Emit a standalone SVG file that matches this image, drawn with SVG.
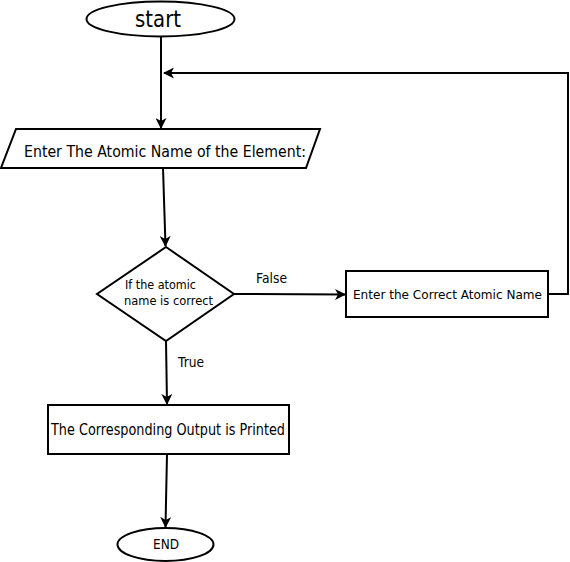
<svg xmlns="http://www.w3.org/2000/svg" width="570" height="562" viewBox="0 0 570 562">
<style>
.s{fill:#fff;stroke:#000;stroke-width:2}
.c{fill:none;stroke:#000;stroke-width:2}
text{font-family:"DejaVu Sans",Verdana,sans-serif;fill:#000}
</style>
<defs>
<marker id="a" markerWidth="11" markerHeight="11" viewBox="0 0 11 11" refX="10" refY="5.5" orient="auto" markerUnits="userSpaceOnUse">
<path d="M0,0 L11,5.5 L0,11 L3,5.5 Z" fill="#000"/>
</marker>
</defs>
<rect width="570" height="562" fill="#fff"/>
<g id="connectors">
<path class="c" d="M161,37 L161,128" marker-end="url(#a)"/>
<path class="c" d="M163,168 L165.5,246" marker-end="url(#a)"/>
<path class="c" d="M234,294 L345,294.5" marker-end="url(#a)"/>
<path class="c" d="M548,294 L568,294 L568,73 L164,73" marker-end="url(#a)"/>
<path class="c" d="M166,341 L167,404" marker-end="url(#a)"/>
<path class="c" d="M167,454 L165.5,527" marker-end="url(#a)"/>
<text x="256" y="283" font-size="13.5" textLength="31" lengthAdjust="spacingAndGlyphs">False</text>
<text x="178" y="367" font-size="13.5" textLength="26" lengthAdjust="spacingAndGlyphs">True</text>
</g>
<g id="start">
<ellipse class="s" cx="160.5" cy="19" rx="74" ry="17.5"/>
<text x="135" y="27" font-size="23" textLength="46" lengthAdjust="spacingAndGlyphs">start</text>
</g>
<g id="input">
<polygon class="s" points="16,129 320,129 306,168 1,168"/>
<text x="24" y="157" font-size="16" textLength="282" lengthAdjust="spacingAndGlyphs">Enter The Atomic Name of the Element:</text>
</g>
<g id="decision">
<polygon class="s" points="166,247 234,294 166,341 97,294"/>
<text x="125" y="289" font-size="12.5" textLength="71" lengthAdjust="spacingAndGlyphs">If the atomic</text>
<text x="124" y="305" font-size="12.5" textLength="89" lengthAdjust="spacingAndGlyphs">name is correct</text>
</g>
<g id="correct">
<rect class="s" x="346" y="271" width="202" height="46"/>
<text x="353" y="299" font-size="12" textLength="189" lengthAdjust="spacingAndGlyphs">Enter the Correct Atomic Name</text>
</g>
<g id="output">
<rect class="s" x="48" y="405" width="241" height="49"/>
<text x="51" y="435" font-size="15" textLength="234" lengthAdjust="spacingAndGlyphs">The Corresponding Output is Printed</text>
</g>
<g id="end">
<ellipse class="s" cx="165.5" cy="544.5" rx="48" ry="16.5"/>
<text x="153" y="549" font-size="13.5" textLength="26" lengthAdjust="spacingAndGlyphs">END</text>
</g>
</svg>
